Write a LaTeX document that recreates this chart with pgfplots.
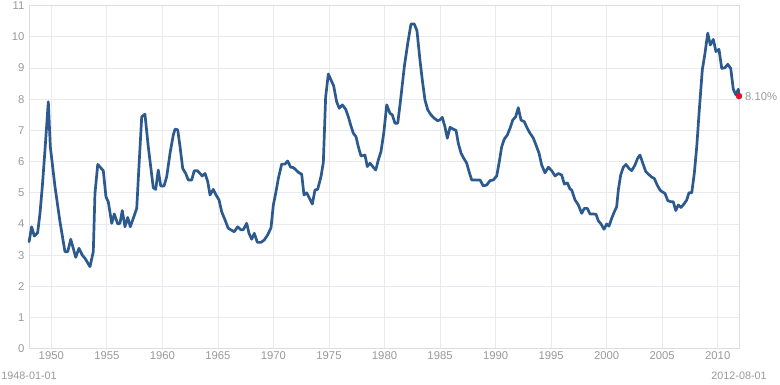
\documentclass[border=0pt]{standalone}
\usepackage{fontspec}
\setmainfont{Liberation Sans}
\usepackage{pgfplots}
\usepackage{pgfplotstable}
\pgfplotsset{compat=1.18}
\definecolor{linec}{HTML}{2D5A8E}
\definecolor{gridc}{HTML}{E9E9F0}
\definecolor{axisc}{HTML}{DCDCE4}
\definecolor{txtc}{HTML}{999999}
\definecolor{dotc}{HTML}{E8102A}
\pgfplotstableread{
year value
1948.00 3.43
1948.23 3.91
1948.47 3.61
1948.77 3.72
1948.98 4.34
1949.19 5.20
1949.43 6.37
1949.73 7.92
1949.91 6.48
1950.33 5.20
1950.78 4.07
1951.23 3.11
1951.48 3.11
1951.75 3.51
1952.20 2.93
1952.49 3.22
1952.79 3.00
1953.03 2.90
1953.48 2.63
1953.78 3.11
1953.93 4.98
1954.18 5.91
1954.68 5.71
1954.92 4.87
1955.13 4.71
1955.44 4.02
1955.67 4.32
1955.98 4.00
1956.18 4.02
1956.39 4.43
1956.63 3.91
1956.88 4.21
1957.11 3.91
1957.38 4.18
1957.69 4.50
1957.89 5.84
1958.14 7.44
1958.43 7.52
1958.73 6.48
1959.04 5.57
1959.18 5.16
1959.40 5.11
1959.63 5.73
1959.85 5.22
1960.15 5.22
1960.39 5.52
1960.69 6.27
1960.98 6.85
1961.14 7.04
1961.38 7.02
1961.59 6.48
1961.83 5.78
1962.10 5.62
1962.33 5.41
1962.64 5.41
1962.87 5.71
1963.14 5.71
1963.39 5.62
1963.59 5.54
1963.84 5.62
1964.08 5.36
1964.29 4.93
1964.58 5.11
1964.83 4.93
1965.10 4.77
1965.34 4.39
1965.64 4.13
1965.93 3.86
1966.18 3.81
1966.47 3.75
1966.78 3.91
1967.08 3.81
1967.29 3.82
1967.59 4.02
1967.80 3.70
1968.04 3.51
1968.28 3.70
1968.55 3.41
1968.88 3.41
1969.18 3.49
1969.48 3.65
1969.78 3.88
1969.99 4.61
1970.20 4.98
1970.44 5.46
1970.74 5.92
1971.04 5.92
1971.28 6.02
1971.55 5.82
1971.79 5.81
1972.09 5.71
1972.30 5.64
1972.54 5.60
1972.75 4.93
1972.99 5.00
1973.29 4.79
1973.50 4.64
1973.74 5.09
1973.98 5.11
1974.28 5.52
1974.49 5.97
1974.70 8.08
1974.94 8.81
1975.18 8.62
1975.42 8.43
1975.69 7.92
1975.93 7.71
1976.20 7.82
1976.50 7.68
1976.74 7.44
1976.98 7.14
1977.19 6.91
1977.43 6.80
1977.64 6.48
1977.88 6.18
1978.24 6.21
1978.45 5.84
1978.69 5.95
1978.94 5.84
1979.21 5.73
1979.44 6.05
1979.68 6.32
1979.93 6.91
1980.20 7.82
1980.49 7.55
1980.70 7.50
1980.94 7.23
1981.19 7.23
1981.48 8.08
1981.78 9.04
1982.09 9.79
1982.38 10.41
1982.68 10.41
1982.92 10.20
1983.19 9.26
1983.40 8.62
1983.64 7.98
1983.89 7.66
1984.18 7.50
1984.48 7.39
1984.79 7.31
1984.99 7.34
1985.20 7.42
1985.44 7.12
1985.65 6.75
1985.90 7.10
1986.19 7.04
1986.44 7.00
1986.64 6.59
1986.89 6.27
1987.13 6.11
1987.40 5.95
1987.61 5.68
1987.85 5.41
1988.15 5.41
1988.60 5.41
1988.89 5.22
1989.20 5.25
1989.50 5.39
1989.79 5.41
1990.10 5.54
1990.31 5.95
1990.55 6.48
1990.78 6.72
1991.05 6.85
1991.30 7.07
1991.54 7.33
1991.81 7.44
1992.04 7.73
1992.29 7.33
1992.58 7.28
1992.85 7.07
1993.10 6.91
1993.40 6.75
1993.64 6.53
1993.91 6.27
1994.15 5.89
1994.45 5.64
1994.75 5.82
1995.05 5.71
1995.35 5.54
1995.65 5.62
1995.95 5.57
1996.19 5.28
1996.46 5.32
1996.70 5.12
1996.85 5.09
1997.15 4.77
1997.45 4.61
1997.75 4.34
1997.99 4.50
1998.26 4.50
1998.50 4.32
1998.80 4.32
1999.04 4.31
1999.25 4.10
1999.49 4.00
1999.76 3.83
2000.00 4.00
2000.21 3.93
2000.45 4.18
2000.69 4.39
2000.90 4.55
2001.05 5.09
2001.26 5.57
2001.50 5.82
2001.74 5.91
2002.01 5.78
2002.25 5.71
2002.55 5.89
2002.79 6.11
2003.00 6.21
2003.25 5.95
2003.52 5.68
2003.75 5.60
2004.06 5.50
2004.29 5.46
2004.56 5.24
2004.80 5.09
2004.96 5.04
2005.25 4.98
2005.50 4.75
2005.79 4.71
2006.00 4.71
2006.22 4.43
2006.45 4.61
2006.69 4.53
2006.96 4.64
2007.21 4.77
2007.41 5.00
2007.66 5.00
2007.89 5.62
2008.11 6.48
2008.34 7.66
2008.61 8.94
2008.85 9.47
2009.10 10.12
2009.33 9.74
2009.60 9.92
2009.84 9.53
2010.11 9.60
2010.36 8.99
2010.65 9.01
2010.90 9.12
2011.17 8.99
2011.40 8.32
2011.64 8.14
2011.85 8.32
2011.915 8.10
}\unemp
\begin{document}
\begin{tikzpicture}[x=1bp,y=1bp]
\useasboundingbox (0,0) rectangle (780,384);
\begin{axis}[
  at={(29.1bp,35.3bp)}, anchor=south west,
  scale only axis,
  width=709.9bp, height=343bp,
  xmin=1948, xmax=2011.915,
  ymin=0, ymax=11,
  xtick={1950,1955,...,2010},
  ytick={0,1,...,11},
  major tick length=0pt,
  grid=major,
  major grid style={gridc, line width=0.8bp},
  axis line style={axisc, line width=0.8bp},
  /pgf/number format/assume math mode=true,
  /pgf/number format/1000 sep={},
  tick label style={font=\fontsize{11.3bp}{13bp}\selectfont, text=txtc, inner sep=0pt},
  xticklabel style={anchor=north, yshift=-3.2bp},
  yticklabel style={anchor=east, xshift=-4.5bp},
  clip=false,
]
\addplot[linec, line width=2.7bp, line join=round, line cap=round] table[x=year, y=value] {\unemp};
\addplot[only marks, mark=*, mark size=3bp, dotc, mark options={draw=dotc, fill=dotc}] coordinates {(2011.915,8.10)};
\node[anchor=west, text=txtc, inner sep=0pt, font=\fontsize{11.3bp}{13bp}\selectfont] at (axis cs:2011.915,8.10) [xshift=6bp, yshift=-0.5bp] {8.10\%};
\node[anchor=north, text=txtc, inner sep=0pt, font=\fontsize{10.8bp}{13bp}\selectfont] at (rel axis cs:0,0) [yshift=-23bp] {1948-01-01};
\node[anchor=north, text=txtc, inner sep=0pt, font=\fontsize{10.8bp}{13bp}\selectfont] at (rel axis cs:1,0) [yshift=-23bp] {2012-08-01};
\end{axis}
\end{tikzpicture}
\end{document}
